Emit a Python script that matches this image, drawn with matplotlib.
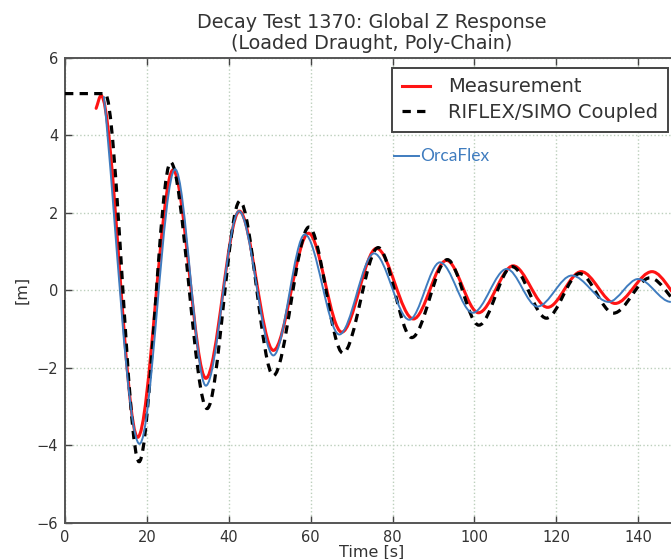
import numpy as np
import matplotlib
matplotlib.use("Agg")
import matplotlib.pyplot as plt
from matplotlib.path import Path
from matplotlib.patches import PathPatch
from matplotlib.lines import Line2D

# ---- data: turning points (time [s], Z [m]) ----
meas_t = [7.6, 8.8, 17.75, 26.4, 34.4, 42.6, 50.9, 59.5, 67.6, 76.1, 85.1,
          93.2, 101.0, 109.5, 117.9, 126.1, 134.4, 143.4, 151.8]
meas_z = [4.69, 5.02, -3.79, 3.10, -2.27, 2.04, -1.55, 1.47, -1.08, 1.08, -0.74,
          0.77, -0.58, 0.63, -0.44, 0.48, -0.34, 0.48, -0.35]

riflex_t = [0.0, 9.8, 18.1, 25.8, 34.7, 42.7, 50.9, 59.6, 67.9, 76.5, 84.7,
            93.4, 101.1, 109.2, 117.6, 125.7, 134.0, 142.9, 151.5]
riflex_z = [5.07, 5.07, -4.42, 3.30, -3.05, 2.30, -2.20, 1.63, -1.62, 1.10, -1.22,
            0.79, -0.90, 0.61, -0.72, 0.43, -0.59, 0.32, -0.45]

orca_t = [9.5, 18.2, 26.9, 34.4, 42.5, 50.9, 58.6, 67.0, 75.5, 84.1,
          91.6, 99.6, 107.9, 115.4, 123.8, 132.8, 140.0, 148.0]
orca_z = [5.00, -3.96, 3.12, -2.46, 2.04, -1.68, 1.44, -1.14, 0.95, -0.76,
          0.72, -0.58, 0.55, -0.42, 0.38, -0.30, 0.29, -0.30]

x_ticks = [0, 20, 40, 60, 80, 100, 120, 140]
y_ticks = [-6, -4, -2, 0, 2, 4, 6]

title = "Decay Test 1370: Global Z Response\n(Loaded Draught, Poly-Chain)"
labels = ["Measurement", "RIFLEX/SIMO Coupled", "OrcaFlex"]


def smooth_path(t, y):
    """Monotone cubic Hermite through the points, as Bezier segments."""
    t = np.asarray(t, float)
    y = np.asarray(y, float)
    h = np.diff(t)
    d = np.diff(y) / h
    m = np.zeros_like(y)
    for k in range(1, len(y) - 1):
        if d[k - 1] * d[k] > 0:
            w1 = 2 * h[k] + h[k - 1]
            w2 = h[k] + 2 * h[k - 1]
            m[k] = (w1 + w2) / (w1 / d[k - 1] + w2 / d[k])
    m[0] = d[0]
    m[-1] = 0.0
    verts = [(t[0], y[0])]
    codes = [Path.MOVETO]
    for k in range(len(h)):
        verts += [(t[k] + h[k] / 3, y[k] + m[k] * h[k] / 3),
                  (t[k + 1] - h[k] / 3, y[k + 1] - m[k + 1] * h[k] / 3),
                  (t[k + 1], y[k + 1])]
        codes += [Path.CURVE4] * 3
    return Path(verts, codes)


plt.rcParams["font.family"] = ["DejaVu Sans"]
plt.rcParams["lines.scale_dashes"] = False
txt = "#333333"

fig = plt.figure(figsize=(6.71, 5.59), dpi=100)
ax = fig.add_axes([0.0969, 0.0644, 0.9151, 0.8327])

red = "#ff1414"
blue = "#3f7cbf"
dash = (0, (6.0, 4.5))

ax.add_patch(PathPatch(smooth_path(meas_t, meas_z), fill=False,
                       edgecolor=red, lw=2.2, zorder=3, capstyle="round"))
ax.add_patch(PathPatch(smooth_path(riflex_t, riflex_z), fill=False,
                       edgecolor="black", lw=2.3, linestyle=dash, zorder=4))
ax.add_patch(PathPatch(smooth_path(orca_t, orca_z), fill=False,
                       edgecolor=blue, lw=1.4, zorder=5))

ax.set_xlim(0, 150)
ax.set_ylim(-6, 6)
ax.set_xticks(x_ticks)
ax.set_yticks(y_ticks)
ax.grid(True, linestyle=":", color="#bccfbc", lw=1.0)
ax.set_axisbelow(True)
ax.tick_params(direction="in", top=True, right=True, length=5, width=1,
               labelsize=10.5, colors="#444444", labelcolor=txt, pad=5)
for s in ax.spines.values():
    s.set_color("#555555")
    s.set_linewidth(1.4)

ax.set_title(title, fontsize=13.8, color=txt, pad=6, linespacing=1.15)
ax.set_xlabel("Time [s]", fontsize=11.5, color=txt, labelpad=0)
ax.set_ylabel("[m]", fontsize=11.5, color=txt, labelpad=5)

handles = [Line2D([], [], color=red, lw=2.2),
           Line2D([], [], color="black", lw=2.3, linestyle=dash)]
leg = ax.legend(handles, labels[:2], loc="upper right",
                bbox_to_anchor=(0.982, 0.978), fontsize=14,
                handlelength=1.45, handletextpad=0.95, borderpad=0.5,
                labelspacing=0.35, fancybox=False, framealpha=1,
                edgecolor="#444444", borderaxespad=0)
leg.get_frame().set_linewidth(1.4)
for t_ in leg.get_texts():
    t_.set_color(txt)

# pasted-on OrcaFlex key
ax.add_line(Line2D([0.536, 0.577], [0.7886, 0.7886], transform=ax.transAxes,
                   color=blue, lw=1.4, zorder=6))
ax.text(0.579, 0.7886, labels[2], transform=ax.transAxes, color=blue,
        fontsize=12.5, family=["Lato", "DejaVu Sans"], va="center", ha="left")

fig.savefig("out.png", dpi=100)
